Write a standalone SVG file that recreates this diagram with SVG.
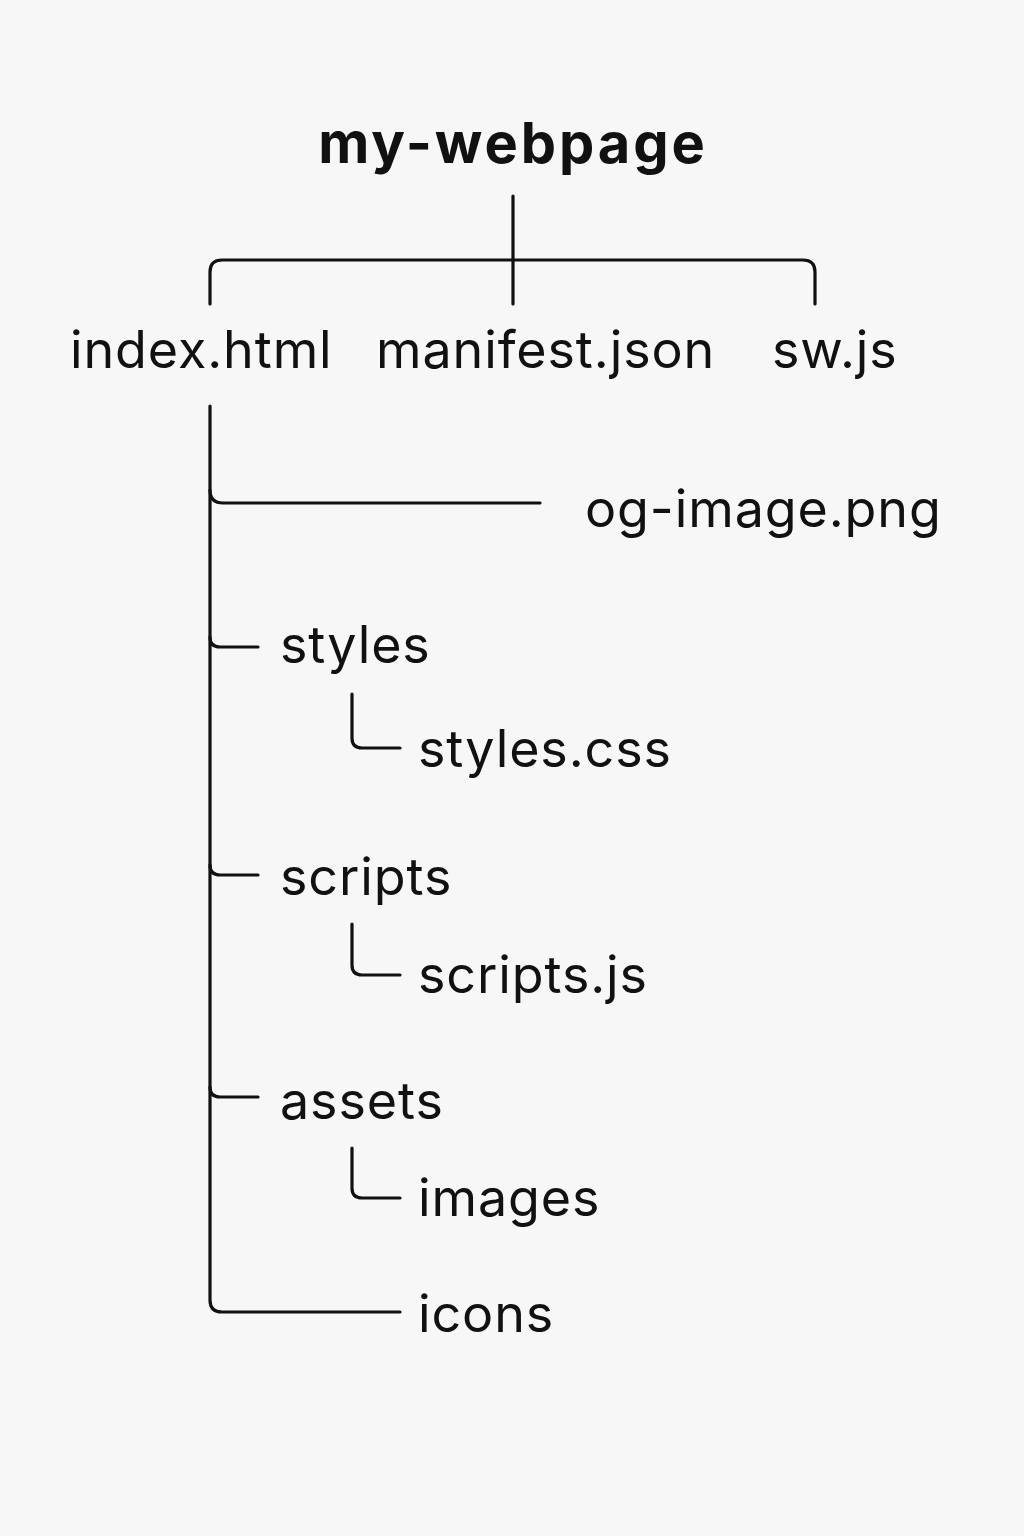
<svg xmlns="http://www.w3.org/2000/svg" width="1024" height="1536" viewBox="0 0 1024 1536">
<style>
.t{font-family:Inter,"Noto Sans","Liberation Sans",sans-serif;font-size:52px;letter-spacing:0.9px;fill:#111}
.b{font-weight:700;font-size:56px;letter-spacing:2.9px}
.c{fill:none;stroke:#111;stroke-width:3.2;stroke-linecap:round;stroke-linejoin:round}
</style>
<rect width="1024" height="1536" fill="#f7f7f7"/>
<g id="connectors">
<path class="c" d="M513 196V304"/>
<path class="c" d="M210 304V272Q210 260 222 260H803Q815 260 815 272V304"/>
<path class="c" d="M210 406V1300Q210 1312 222 1312H400"/>
<path class="c" d="M210 490Q210 503 223 503H540"/>
<path class="c" d="M210 637Q210 647 220 647H258"/>
<path class="c" d="M210 865Q210 875 220 875H258"/>
<path class="c" d="M210 1087Q210 1097 220 1097H258"/>
<path class="c" d="M352 694V738Q352 748 362 748H400"/>
<path class="c" d="M352 924V965Q352 975 362 975H400"/>
<path class="c" d="M352 1148V1188Q352 1198 362 1198H400"/>
</g>
<g id="root"><text class="t b" x="513" y="163" text-anchor="middle">my-webpage</text></g>
<g id="index"><text class="t" x="70" y="368">index.html</text></g>
<g id="manifest"><text class="t" x="376" y="368">manifest.json</text></g>
<g id="sw"><text class="t" x="772" y="368">sw.js</text></g>
<g id="og"><text class="t" x="585" y="527">og-image.png</text></g>
<g id="styles"><text class="t" x="280" y="663">styles</text></g>
<g id="stylescss"><text class="t" x="418" y="767">styles.css</text></g>
<g id="scripts"><text class="t" x="280" y="895">scripts</text></g>
<g id="scriptsjs"><text class="t" x="418" y="993">scripts.js</text></g>
<g id="assets"><text class="t" x="280" y="1119">assets</text></g>
<g id="images"><text class="t" x="418" y="1216">images</text></g>
<g id="icons"><text class="t" x="418" y="1332">icons</text></g>
</svg>
